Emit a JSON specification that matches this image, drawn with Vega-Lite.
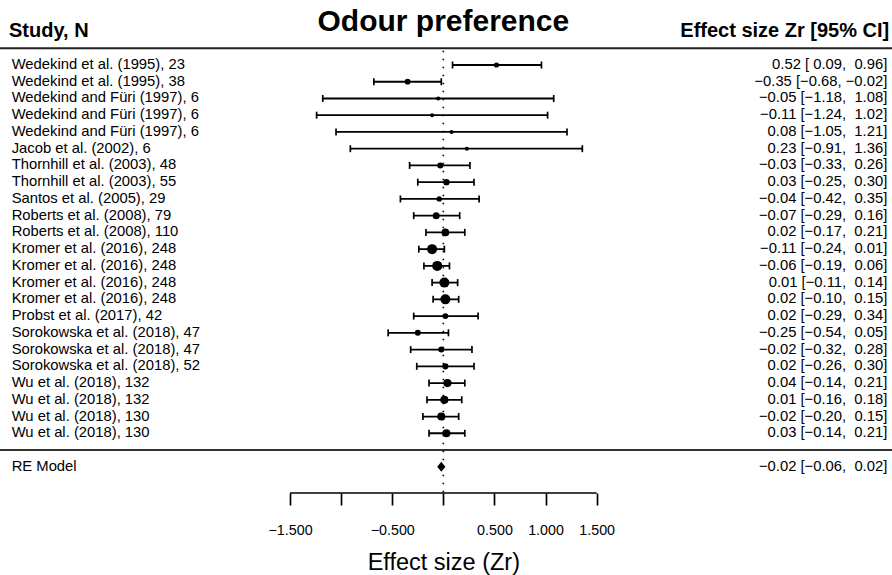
{
  "$schema": "https://vega.github.io/schema/vega-lite/v6.json",
  "width": 892,
  "height": 493,
  "autosize": {"type": "none"},
  "padding": {"top": 0, "left": 0, "right": 0, "bottom": 82},
  "background": "white",
  "config": {
    "font": "Liberation Sans",
    "view": {"stroke": null},
    "text": {"font": "Liberation Sans", "color": "black"},
    "axisX": {
      "domain": false, "grid": false,
      "tickSize": 12, "tickWidth": 1.7, "tickColor": "black",
      "labelFont": "Liberation Sans", "labelFontSize": 14.3, "labelColor": "black", "labelPadding": 18,
      "labelFlush": false, "labelOverlap": false,
      "titleFont": "Liberation Sans", "titleFontSize": 23.5, "titleFontWeight": "normal",
      "titleColor": "black", "titlePadding": 13
    }
  },
  "datasets": {
    "studies": [
      {"row": 23, "label": "Wedekind et al. (1995), 23", "n": 23, "est": 0.52, "lb": 0.09, "ub": 0.96, "ci": "0.52 [\u00a00.09, \u00a00.96]"},
      {"row": 22, "label": "Wedekind et al. (1995), 38", "n": 38, "est": -0.35, "lb": -0.68, "ub": -0.02, "ci": "\u22120.35 [\u22120.68, \u22120.02]"},
      {"row": 21, "label": "Wedekind and Füri (1997), 6", "n": 6, "est": -0.05, "lb": -1.18, "ub": 1.08, "ci": "\u22120.05 [\u22121.18, \u00a01.08]"},
      {"row": 20, "label": "Wedekind and Füri (1997), 6", "n": 6, "est": -0.11, "lb": -1.24, "ub": 1.02, "ci": "\u22120.11 [\u22121.24, \u00a01.02]"},
      {"row": 19, "label": "Wedekind and Füri (1997), 6", "n": 6, "est": 0.08, "lb": -1.05, "ub": 1.21, "ci": "0.08 [\u22121.05, \u00a01.21]"},
      {"row": 18, "label": "Jacob et al. (2002), 6", "n": 6, "est": 0.23, "lb": -0.91, "ub": 1.36, "ci": "0.23 [\u22120.91, \u00a01.36]"},
      {"row": 17, "label": "Thornhill et al. (2003), 48", "n": 48, "est": -0.03, "lb": -0.33, "ub": 0.26, "ci": "\u22120.03 [\u22120.33, \u00a00.26]"},
      {"row": 16, "label": "Thornhill et al. (2003), 55", "n": 55, "est": 0.03, "lb": -0.25, "ub": 0.30, "ci": "0.03 [\u22120.25, \u00a00.30]"},
      {"row": 15, "label": "Santos et al. (2005), 29", "n": 29, "est": -0.04, "lb": -0.42, "ub": 0.35, "ci": "\u22120.04 [\u22120.42, \u00a00.35]"},
      {"row": 14, "label": "Roberts et al. (2008), 79", "n": 79, "est": -0.07, "lb": -0.29, "ub": 0.16, "ci": "\u22120.07 [\u22120.29, \u00a00.16]"},
      {"row": 13, "label": "Roberts et al. (2008), 110", "n": 110, "est": 0.02, "lb": -0.17, "ub": 0.21, "ci": "0.02 [\u22120.17, \u00a00.21]"},
      {"row": 12, "label": "Kromer et al. (2016), 248", "n": 248, "est": -0.11, "lb": -0.24, "ub": 0.01, "ci": "\u22120.11 [\u22120.24, \u00a00.01]"},
      {"row": 11, "label": "Kromer et al. (2016), 248", "n": 248, "est": -0.06, "lb": -0.19, "ub": 0.06, "ci": "\u22120.06 [\u22120.19, \u00a00.06]"},
      {"row": 10, "label": "Kromer et al. (2016), 248", "n": 248, "est": 0.01, "lb": -0.11, "ub": 0.14, "ci": "0.01 [\u22120.11, \u00a00.14]"},
      {"row": 9, "label": "Kromer et al. (2016), 248", "n": 248, "est": 0.02, "lb": -0.10, "ub": 0.15, "ci": "0.02 [\u22120.10, \u00a00.15]"},
      {"row": 8, "label": "Probst et al. (2017), 42", "n": 42, "est": 0.02, "lb": -0.29, "ub": 0.34, "ci": "0.02 [\u22120.29, \u00a00.34]"},
      {"row": 7, "label": "Sorokowska et al. (2018), 47", "n": 47, "est": -0.25, "lb": -0.54, "ub": 0.05, "ci": "\u22120.25 [\u22120.54, \u00a00.05]"},
      {"row": 6, "label": "Sorokowska et al. (2018), 47", "n": 47, "est": -0.02, "lb": -0.32, "ub": 0.28, "ci": "\u22120.02 [\u22120.32, \u00a00.28]"},
      {"row": 5, "label": "Sorokowska et al. (2018), 52", "n": 52, "est": 0.02, "lb": -0.26, "ub": 0.30, "ci": "0.02 [\u22120.26, \u00a00.30]"},
      {"row": 4, "label": "Wu et al. (2018), 132", "n": 132, "est": 0.04, "lb": -0.14, "ub": 0.21, "ci": "0.04 [\u22120.14, \u00a00.21]"},
      {"row": 3, "label": "Wu et al. (2018), 132", "n": 132, "est": 0.01, "lb": -0.16, "ub": 0.18, "ci": "0.01 [\u22120.16, \u00a00.18]"},
      {"row": 2, "label": "Wu et al. (2018), 130", "n": 130, "est": -0.02, "lb": -0.20, "ub": 0.15, "ci": "\u22120.02 [\u22120.20, \u00a00.15]"},
      {"row": 1, "label": "Wu et al. (2018), 130", "n": 130, "est": 0.03, "lb": -0.14, "ub": 0.21, "ci": "0.03 [\u22120.14, \u00a00.21]"}
    ],
    "model": [
      {"row": -1, "label": "RE Model", "est": -0.02, "lb": -0.06, "ub": 0.02, "ci": "\u22120.02 [\u22120.06, \u00a00.02]"}
    ],
    "headers": [
      {"left": "Study, N", "right": "Effect size Zr [95% CI]", "title": "Odour preference"}
    ]
  },
  "data": {"name": "studies"},
  "layer": [
    {
      "data": {"name": "headers"},
      "mark": {"type": "rule", "strokeWidth": 2, "color": "#222"},
      "encoding": {
        "y": {"datum": 24, "type": "quantitative", "scale": {"domain": [-2.568, 26.883], "nice": false, "zero": false}, "axis": null}
      }
    },
    {
      "data": {"name": "headers"},
      "mark": {"type": "rule", "strokeWidth": 2, "color": "#333"},
      "encoding": {
        "y": {"datum": 0, "type": "quantitative", "scale": {"domain": [-2.568, 26.883], "nice": false, "zero": false}, "axis": null}
      }
    },
    {
      "data": {"name": "headers"},
      "mark": {"type": "rule", "strokeWidth": 1.6, "color": "black", "strokeDash": [1.6, 6.4]},
      "encoding": {
        "x": {"datum": 0, "type": "quantitative", "scale": {"domain": [-4.338, 4.39], "nice": false, "zero": false},
          "axis": {"values": [-1.5, -1, -0.5, 0, 0.5, 1, 1.5], "format": ".3f", "labelExpr": "datum.value == -1 || datum.value == 0 ? '' : datum.label", "title": "Effect size (Zr)", "titleX": 443.35}},
        "y": {"datum": 23.85, "type": "quantitative", "scale": {"domain": [-2.568, 26.883], "nice": false, "zero": false}, "axis": null},
        "y2": {"datum": -2.568}
      }
    },
    {
      "data": {"name": "headers"},
      "mark": {"type": "rule", "strokeWidth": 1.7, "color": "black"},
      "encoding": {
        "x": {"datum": -1.5, "type": "quantitative", "scale": {"domain": [-4.338, 4.39], "nice": false, "zero": false},
          "axis": {"values": [-1.5, -1, -0.5, 0, 0.5, 1, 1.5], "format": ".3f", "labelExpr": "datum.value == -1 || datum.value == 0 ? '' : datum.label", "title": "Effect size (Zr)", "titleX": 443.35}},
        "x2": {"datum": 1.5},
        "y": {"datum": -2.568, "type": "quantitative", "scale": {"domain": [-2.568, 26.883], "nice": false, "zero": false}, "axis": null}
      }
    },
    {
      "mark": {"type": "rule", "strokeWidth": 1.8, "color": "black"},
      "encoding": {
        "x": {"field": "lb", "type": "quantitative", "scale": {"domain": [-4.338, 4.39], "nice": false, "zero": false},
          "axis": {"values": [-1.5, -1, -0.5, 0, 0.5, 1, 1.5], "format": ".3f", "labelExpr": "datum.value == -1 || datum.value == 0 ? '' : datum.label", "title": "Effect size (Zr)", "titleX": 443.35}},
        "x2": {"field": "ub"},
        "y": {"field": "row", "type": "quantitative", "scale": {"domain": [-2.568, 26.883], "nice": false, "zero": false}, "axis": null}
      }
    },
    {
      "mark": {"type": "tick", "orient": "vertical", "size": 7, "thickness": 1.7, "color": "black", "opacity": 1},
      "encoding": {
        "x": {"field": "lb", "type": "quantitative", "scale": {"domain": [-4.338, 4.39], "nice": false, "zero": false},
          "axis": {"values": [-1.5, -1, -0.5, 0, 0.5, 1, 1.5], "format": ".3f", "labelExpr": "datum.value == -1 || datum.value == 0 ? '' : datum.label", "title": "Effect size (Zr)", "titleX": 443.35}},
        "y": {"field": "row", "type": "quantitative", "scale": {"domain": [-2.568, 26.883], "nice": false, "zero": false}, "axis": null}
      }
    },
    {
      "mark": {"type": "tick", "orient": "vertical", "size": 7, "thickness": 1.7, "color": "black", "opacity": 1},
      "encoding": {
        "x": {"field": "ub", "type": "quantitative", "scale": {"domain": [-4.338, 4.39], "nice": false, "zero": false},
          "axis": {"values": [-1.5, -1, -0.5, 0, 0.5, 1, 1.5], "format": ".3f", "labelExpr": "datum.value == -1 || datum.value == 0 ? '' : datum.label", "title": "Effect size (Zr)", "titleX": 443.35}},
        "y": {"field": "row", "type": "quantitative", "scale": {"domain": [-2.568, 26.883], "nice": false, "zero": false}, "axis": null}
      }
    },
    {
      "mark": {"type": "circle", "color": "black", "opacity": 1},
      "encoding": {
        "x": {"field": "est", "type": "quantitative", "scale": {"domain": [-4.338, 4.39], "nice": false, "zero": false},
          "axis": {"values": [-1.5, -1, -0.5, 0, 0.5, 1, 1.5], "format": ".3f", "labelExpr": "datum.value == -1 || datum.value == 0 ? '' : datum.label", "title": "Effect size (Zr)", "titleX": 443.35}},
        "y": {"field": "row", "type": "quantitative", "scale": {"domain": [-2.568, 26.883], "nice": false, "zero": false}, "axis": null},
        "size": {"field": "n", "type": "quantitative", "scale": {"type": "pow", "exponent": 0.75, "zero": false, "domain": [6, 248], "range": [17, 100]}, "legend": null}
      }
    },
    {
      "mark": {"type": "text", "align": "left", "baseline": "middle", "fontSize": 14.8},
      "encoding": {
        "x": {"datum": -4.224, "type": "quantitative", "scale": {"domain": [-4.338, 4.39], "nice": false, "zero": false},
          "axis": {"values": [-1.5, -1, -0.5, 0, 0.5, 1, 1.5], "format": ".3f", "labelExpr": "datum.value == -1 || datum.value == 0 ? '' : datum.label", "title": "Effect size (Zr)", "titleX": 443.35}},
        "y": {"field": "row", "type": "quantitative", "scale": {"domain": [-2.568, 26.883], "nice": false, "zero": false}, "axis": null},
        "text": {"field": "label"}
      }
    },
    {
      "mark": {"type": "text", "align": "right", "baseline": "middle", "fontSize": 14.8},
      "encoding": {
        "x": {"datum": 4.344, "type": "quantitative", "scale": {"domain": [-4.338, 4.39], "nice": false, "zero": false},
          "axis": {"values": [-1.5, -1, -0.5, 0, 0.5, 1, 1.5], "format": ".3f", "labelExpr": "datum.value == -1 || datum.value == 0 ? '' : datum.label", "title": "Effect size (Zr)", "titleX": 443.35}},
        "y": {"field": "row", "type": "quantitative", "scale": {"domain": [-2.568, 26.883], "nice": false, "zero": false}, "axis": null},
        "text": {"field": "ci"}
      }
    },
    {
      "data": {"name": "model"},
      "mark": {"type": "text", "align": "left", "baseline": "middle", "fontSize": 14.8},
      "encoding": {
        "x": {"datum": -4.224, "type": "quantitative", "scale": {"domain": [-4.338, 4.39], "nice": false, "zero": false},
          "axis": {"values": [-1.5, -1, -0.5, 0, 0.5, 1, 1.5], "format": ".3f", "labelExpr": "datum.value == -1 || datum.value == 0 ? '' : datum.label", "title": "Effect size (Zr)", "titleX": 443.35}},
        "y": {"field": "row", "type": "quantitative", "scale": {"domain": [-2.568, 26.883], "nice": false, "zero": false}, "axis": null},
        "text": {"field": "label"}
      }
    },
    {
      "data": {"name": "model"},
      "mark": {"type": "text", "align": "right", "baseline": "middle", "fontSize": 14.8},
      "encoding": {
        "x": {"datum": 4.344, "type": "quantitative", "scale": {"domain": [-4.338, 4.39], "nice": false, "zero": false},
          "axis": {"values": [-1.5, -1, -0.5, 0, 0.5, 1, 1.5], "format": ".3f", "labelExpr": "datum.value == -1 || datum.value == 0 ? '' : datum.label", "title": "Effect size (Zr)", "titleX": 443.35}},
        "y": {"field": "row", "type": "quantitative", "scale": {"domain": [-2.568, 26.883], "nice": false, "zero": false}, "axis": null},
        "text": {"field": "ci"}
      }
    },
    {
      "data": {"name": "model"},
      "mark": {"type": "point", "filled": true, "color": "black", "opacity": 1, "size": 100, "shape": "M-0.82,0L0,-1L0.82,0L0,1Z"},
      "encoding": {
        "x": {"field": "est", "type": "quantitative", "scale": {"domain": [-4.338, 4.39], "nice": false, "zero": false},
          "axis": {"values": [-1.5, -1, -0.5, 0, 0.5, 1, 1.5], "format": ".3f", "labelExpr": "datum.value == -1 || datum.value == 0 ? '' : datum.label", "title": "Effect size (Zr)", "titleX": 443.35}},
        "y": {"field": "row", "type": "quantitative", "scale": {"domain": [-2.568, 26.883], "nice": false, "zero": false}, "axis": null}
      }
    },
    {
      "data": {"name": "headers"},
      "mark": {"type": "text", "align": "left", "baseline": "middle", "fontSize": 20, "fontWeight": "bold"},
      "encoding": {
        "x": {"datum": -4.25, "type": "quantitative", "scale": {"domain": [-4.338, 4.39], "nice": false, "zero": false},
          "axis": {"values": [-1.5, -1, -0.5, 0, 0.5, 1, 1.5], "format": ".3f", "labelExpr": "datum.value == -1 || datum.value == 0 ? '' : datum.label", "title": "Effect size (Zr)", "titleX": 443.35}},
        "y": {"datum": 25.03, "type": "quantitative", "scale": {"domain": [-2.568, 26.883], "nice": false, "zero": false}, "axis": null},
        "text": {"field": "left"}
      }
    },
    {
      "data": {"name": "headers"},
      "mark": {"type": "text", "align": "right", "baseline": "middle", "fontSize": 20, "fontWeight": "bold"},
      "encoding": {
        "x": {"datum": 4.363, "type": "quantitative", "scale": {"domain": [-4.338, 4.39], "nice": false, "zero": false},
          "axis": {"values": [-1.5, -1, -0.5, 0, 0.5, 1, 1.5], "format": ".3f", "labelExpr": "datum.value == -1 || datum.value == 0 ? '' : datum.label", "title": "Effect size (Zr)", "titleX": 443.35}},
        "y": {"datum": 25.03, "type": "quantitative", "scale": {"domain": [-2.568, 26.883], "nice": false, "zero": false}, "axis": null},
        "text": {"field": "right"}
      }
    },
    {
      "data": {"name": "headers"},
      "mark": {"type": "text", "align": "center", "baseline": "middle", "fontSize": 30, "fontWeight": "bold"},
      "encoding": {
        "x": {"datum": 0, "type": "quantitative", "scale": {"domain": [-4.338, 4.39], "nice": false, "zero": false},
          "axis": {"values": [-1.5, -1, -0.5, 0, 0.5, 1, 1.5], "format": ".3f", "labelExpr": "datum.value == -1 || datum.value == 0 ? '' : datum.label", "title": "Effect size (Zr)", "titleX": 443.35}},
        "y": {"datum": 25.58, "type": "quantitative", "scale": {"domain": [-2.568, 26.883], "nice": false, "zero": false}, "axis": null},
        "text": {"field": "title"}
      }
    }
  ]
}
